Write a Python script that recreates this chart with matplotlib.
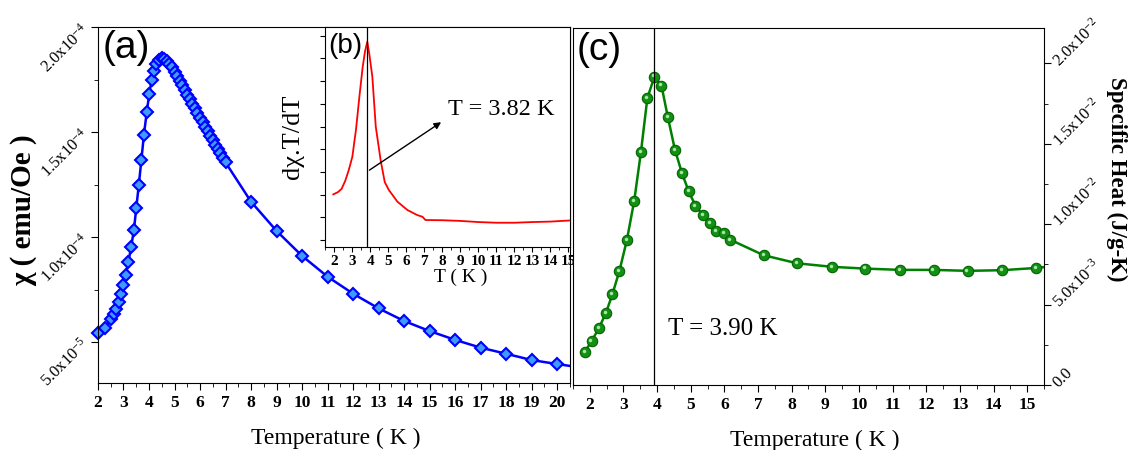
import matplotlib
matplotlib.use('Agg')
import matplotlib.pyplot as plt
from matplotlib.ticker import MultipleLocator, FixedLocator, NullFormatter
from matplotlib.transforms import ScaledTranslation

plt.rcParams['font.family'] = 'Liberation Serif'
plt.rcParams['mathtext.fontset'] = 'custom'
plt.rcParams['mathtext.rm'] = 'Liberation Serif'
plt.rcParams['mathtext.bf'] = 'Liberation Serif:bold'

# (a) susceptibility chi vs T
chi_T = [2.0, 2.26, 2.53, 2.62, 2.71, 2.81, 2.91, 3.0, 3.08, 3.19, 3.30, 3.41, 3.50,
         3.60, 3.70, 3.80, 3.91, 4.01, 4.10, 4.19, 4.29, 4.40, 4.50, 4.60, 4.70,
         4.80, 4.90, 5.00, 5.10, 5.20, 5.30, 5.40, 5.50, 5.60, 5.70, 5.80, 5.90,
         6.00, 6.10, 6.20, 6.30, 6.40, 6.50, 6.60, 6.70, 6.80, 6.90, 7.00,
         8, 9, 10, 11, 12, 13, 14, 15, 16, 17, 18, 19, 20]
chi_val = [5.45, 5.68, 6.10, 6.32, 6.56, 6.89, 7.27, 7.70, 8.19, 8.80, 9.52, 10.35, 11.37,
           12.48, 13.65, 14.86, 15.94, 16.81, 17.46, 17.92, 18.22, 18.42, 18.50, 18.47, 18.38,
           18.25, 18.08, 17.88, 17.66, 17.44, 17.22, 17.00, 16.78, 16.56, 16.34, 16.12, 15.90,
           15.68, 15.46, 15.24, 15.03, 14.82, 14.61, 14.40, 14.19, 13.98, 13.77, 13.55,
           11.68, 10.29, 9.10, 8.11, 7.30, 6.60, 6.00, 5.52, 5.10, 4.73, 4.44, 4.14, 3.95]
chi_tail_T = [20, 20.5]
chi_tail_val = [3.95, 3.86]

# (b) inset d(chi T)/dT, arbitrary units
ins_T = [1.94, 2.2, 2.4, 2.6, 2.8, 3.0, 3.1, 3.2, 3.4, 3.57, 3.7, 3.83, 3.95, 4.11,
         4.3, 4.57, 4.8, 5.03, 5.5, 6.06, 6.6, 6.9, 7.06, 8, 9, 10, 11, 12, 13, 14, 15.1]
ins_val = [2.01, 2.11, 2.25, 2.6, 3.08, 3.67, 4.27, 4.85, 6.39, 7.6, 8.3, 8.74, 8.15, 7.2,
           5.0, 3.52, 2.55, 2.2, 1.69, 1.32, 1.1, 1.02, 0.88, 0.87, 0.84, 0.79, 0.76, 0.76,
           0.79, 0.81, 0.86]

# (c) specific heat
cp_T = [1.85, 2.05, 2.27, 2.48, 2.67, 2.88, 3.10, 3.32, 3.52, 3.71, 3.92, 4.13, 4.32,
        4.53, 4.74, 4.94, 5.14, 5.36, 5.57, 5.76, 5.98, 6.18, 7.17, 8.16, 9.20, 10.19,
        11.23, 12.22, 13.23, 14.25, 15.27]
cp_val = [2.06, 2.72, 3.54, 4.49, 5.64, 7.10, 9.00, 11.46, 14.50, 17.84, 19.18, 18.62, 16.65,
          14.63, 13.17, 12.04, 11.15, 10.57, 10.08, 9.57, 9.44, 9.03, 8.07, 7.57, 7.35, 7.24,
          7.16, 7.16, 7.10, 7.14, 7.28]
cp_tail_T = [15.27, 15.5]
cp_tail_val = [7.28, 7.33]

chi_ticks = [5e-5, 1e-4, 1.5e-4, 2e-4]
chi_ticklabels = [r'$\mathregular{5.0x10^{-5}}$', r'$\mathregular{1.0x10^{-4}}$',
                  r'$\mathregular{1.5x10^{-4}}$', r'$\mathregular{2.0x10^{-4}}$']
cp_ticks = [0, 5e-3, 1e-2, 1.5e-2, 2e-2]
cp_ticklabels = ['0.0', r'$\mathregular{5.0x10^{-3}}$', r'$\mathregular{1.0x10^{-2}}$',
                 r'$\mathregular{1.5x10^{-2}}$', r'$\mathregular{2.0x10^{-2}}$']

fig = plt.figure(figsize=(11.34, 4.5), dpi=100)

# ---- panel (a)
ax1 = fig.add_axes([0.0864, 0.149, 0.4162, 0.791])
ax1.plot(chi_tail_T, [v * 1e-5 for v in chi_tail_val], color='#0000ff', lw=1.8)
ax1.plot(chi_T, [v * 1e-5 for v in chi_val], color='#0000ff', lw=1.8, marker='D', ms=6.5,
         mfc='#3d9bff', mec='#0000ff', mew=1.5, clip_on=False)
ax1.set_xlim(2, 20.5)
ax1.set_ylim(3.05e-5, 2.0e-4)
ax1.xaxis.set_major_locator(MultipleLocator(1))
ax1.xaxis.set_minor_locator(MultipleLocator(0.5))
ax1.yaxis.set_major_locator(FixedLocator(chi_ticks))
ax1.yaxis.set_minor_locator(FixedLocator([7.5e-5, 1.25e-4, 1.75e-4]))
ax1.set_yticklabels(chi_ticklabels, rotation=45, ha='right', va='center',
                    rotation_mode='anchor', fontsize=12)
ax1.tick_params(axis='x', which='major', direction='out', length=5, labelsize=12.5, top=False)
ax1.tick_params(axis='x', which='minor', direction='out', length=3, top=False)
ax1.tick_params(axis='y', which='major', direction='out', length=5, right=False)
ax1.tick_params(axis='y', which='minor', direction='out', length=3, right=False)
for lab in ax1.get_xticklabels():
    lab.set_fontweight('bold')
ax1.set_xlabel('Temperature ( K )', fontsize=17)
ax1.xaxis.set_label_coords(0.504, -0.125)
ax1.set_ylabel('χ ( emu/Oe )', fontsize=21, fontweight='bold')
ax1.yaxis.set_label_coords(-0.158, 0.486)
ax1.yaxis.label.set_va('center')
ax1.text(0.01, 0.94, '(a)', transform=ax1.transAxes, fontsize=28, family='Liberation Sans',
         va='center', ha='left')

# ---- inset (b)
ax2 = fig.add_axes([0.2866, 0.4511, 0.216, 0.489])
ax2.plot(ins_T, ins_val, color='#ff0000', lw=1.3)
ax2.axvline(3.82, color='black', lw=0.9)
ax2.set_xlim(1.48, 15.09)
ax2.set_ylim(-0.31, 9.39)
ax2.xaxis.set_major_locator(MultipleLocator(1))
ax2.xaxis.set_minor_locator(MultipleLocator(0.5))
ax2.yaxis.set_major_locator(MultipleLocator(1))
ax2.yaxis.set_major_formatter(NullFormatter())
ax2.tick_params(axis='x', which='major', direction='out', length=3.5, labelsize=11, pad=2)
ax2.tick_params(axis='x', which='minor', direction='out', length=2)
ax2.tick_params(axis='y', direction='out', length=3.5)
for lab in ax2.get_xticklabels():
    lab.set_fontweight('bold')
ax2.annotate('', xy=(8.06, 5.26), xytext=(3.82, 3.01),
             arrowprops=dict(arrowstyle='-|>', color='black', lw=1, mutation_scale=10))
ax2.text(8.33, 5.77, 'T = 3.82 K', fontsize=17.5, va='center', ha='left')
ax2.set_xlabel('T ( K )', fontsize=14, labelpad=1)
ax2.xaxis.set_label_coords(0.555, -0.1)
ax2.set_ylabel('dχ.T/dT', fontsize=19)
ax2.yaxis.set_label_coords(-0.13, 0.5)
ax2.yaxis.label.set_va('center')
ax2.text(0.015, 0.915, '(b)', transform=ax2.transAxes, fontsize=20, family='Liberation Sans',
         va='center', ha='left')

# ---- panel (c)
ax3 = fig.add_axes([0.5053, 0.1444, 0.4153, 0.7933])
ax3.plot(cp_tail_T, [v * 1e-3 for v in cp_tail_val], color='#008000', lw=1.8)
ax3.plot(cp_T, [v * 1e-3 for v in cp_val], color='#008000', lw=1.8, marker='o', ms=7.5,
         mfc='#138f13', mec='#006400', mew=0.8)
# small highlight on each sphere marker
ax3.plot(cp_T, [v * 1e-3 for v in cp_val], ls='none', marker='o', ms=2.5,
         mfc='#a6e6a6', mec='none',
         transform=ax3.transData + ScaledTranslation(-1.2 / 100, 1.2 / 100, fig.dpi_scale_trans))
ax3.axvline(3.92, color='black', lw=0.9)
ax3.set_xlim(1.5, 15.5)
ax3.set_ylim(0, 0.0222)
ax3.yaxis.tick_right()
ax3.yaxis.set_label_position('right')
ax3.xaxis.set_major_locator(MultipleLocator(1))
ax3.xaxis.set_minor_locator(MultipleLocator(0.5))
ax3.yaxis.set_major_locator(FixedLocator(cp_ticks))
ax3.yaxis.set_minor_locator(FixedLocator([2.5e-3, 7.5e-3, 1.25e-2, 1.75e-2]))
ax3.set_yticklabels(cp_ticklabels, rotation=45, ha='left', va='center',
                    rotation_mode='anchor', fontsize=12)
for lab in ax3.get_yticklabels():
    lab.set_transform(lab.get_transform() + ScaledTranslation(0, -6 / 100, fig.dpi_scale_trans))
ax3.tick_params(axis='x', which='major', direction='out', length=5, labelsize=12.5, top=False)
ax3.tick_params(axis='x', which='minor', direction='out', length=3, top=False)
ax3.tick_params(axis='y', which='major', direction='out', length=5, left=False)
ax3.tick_params(axis='y', which='minor', direction='out', length=3, left=False)
for lab in ax3.get_xticklabels():
    lab.set_fontweight('bold')
ax3.text(4.32, 3.46e-3, 'T = 3.90 K', fontsize=18, va='center', ha='left')
ax3.set_xlabel('Temperature ( K )', fontsize=17)
ax3.xaxis.set_label_coords(0.514, -0.125)
ax3.set_ylabel('Specific Heat (J/g-K)', fontsize=16.5, fontweight='bold', rotation=270)
ax3.yaxis.set_label_coords(1.155, 0.577)
ax3.yaxis.label.set_va('center')
ax3.text(0.008, 0.938, '(c)', transform=ax3.transAxes, fontsize=28, family='Liberation Sans',
         va='center', ha='left')

fig.savefig('out.png', dpi=100)
